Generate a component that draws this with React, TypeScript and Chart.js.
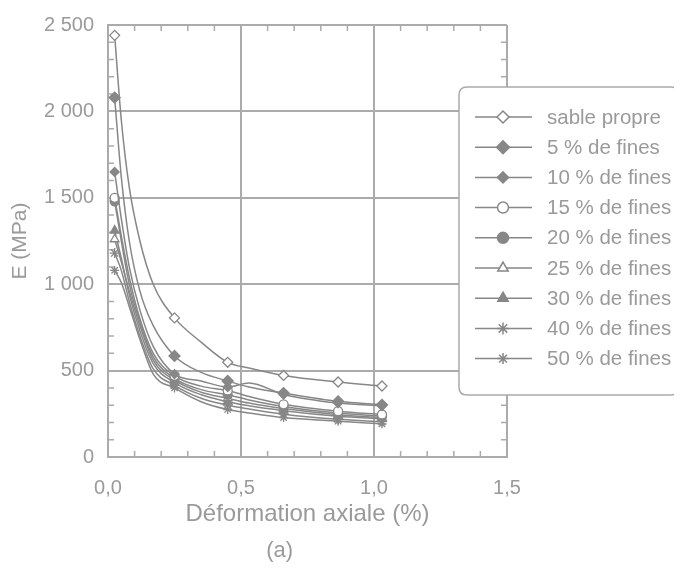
import React, { useEffect, useRef } from 'react';
import { Chart, registerables } from 'chart.js';
import { drawPoint } from 'chart.js/helpers';

Chart.register(...registerables);

// ---------- data ----------
const strain = [0.025, 0.05, 0.08, 0.12, 0.17, 0.25, 0.35, 0.45, 0.53, 0.66, 0.865, 1.03];
const markedIdx = [0, 5, 7, 9, 10, 11];

const seriesNames = [
  'sable propre',
  '5 % de fines',
  '10 % de fines',
  '15 % de fines',
  '20 % de fines',
  '25 % de fines',
  '30 % de fines',
  '40 % de fines',
  '50 % de fines',
];

const sablePropre = [2440, 1950, 1560, 1250, 1000, 805, 665, 548, 515, 472, 434, 411];
const fines5 = [2080, 1620, 1250, 960, 760, 585, 490, 440, 405, 370, 322, 302];
const fines10 = [1650, 1380, 1100, 850, 640, 480, 440, 405, 428, 362, 312, 296];
const fines15 = [1500, 1280, 1040, 800, 600, 470, 410, 385, 350, 305, 265, 246];
const fines20 = [1480, 1250, 1000, 780, 580, 455, 390, 360, 330, 292, 254, 236];
const fines25 = [1260, 1130, 960, 760, 560, 445, 375, 340, 312, 280, 245, 228];
const fines30 = [1310, 1150, 940, 730, 540, 430, 360, 320, 296, 268, 236, 221];
const fines40 = [1180, 1080, 900, 700, 510, 415, 340, 300, 278, 248, 218, 205];
const fines50 = [1080, 1010, 870, 680, 480, 400, 320, 275, 255, 228, 207, 192];

const seriesValues = [sablePropre, fines5, fines10, fines15, fines20, fines25, fines30, fines40, fines50];

const xTicks = [0, 0.5, 1, 1.5];
const xTickLabels = ['0,0', '0,5', '1,0', '1,5'];
const yTicks = [0, 500, 1000, 1500, 2000, 2500];
const yTickLabels = ['0', '500', '1 000', '1 500', '2 000', '2 500'];

// ---------- styles ----------
const FONT = "'Liberation Sans', Arial, Helvetica, sans-serif";
const TEXT = '#9a9a9a';
const GRID = '#ababab';
const LINE = '#878787';

const markerStyles = [
  { pointStyle: 'rectRot', filled: false, radius: 5 },
  { pointStyle: 'rectRot', filled: true, radius: 5.5 },
  { pointStyle: 'rectRot', filled: true, radius: 4.5 },
  { pointStyle: 'circle', filled: false, radius: 4.5 },
  { pointStyle: 'circle', filled: true, radius: 4.5 },
  { pointStyle: 'triangle', filled: false, radius: 5 },
  { pointStyle: 'triangle', filled: true, radius: 5 },
  { pointStyle: 'star', filled: false, radius: 5 },
  { pointStyle: 'star', filled: false, radius: 4.5 },
];

const minorTicksPlugin = {
  id: 'minorTicks',
  beforeDatasetsDraw(chart: any) {
    const { ctx, chartArea, scales } = chart;
    const xs = scales.x;
    const ys = scales.y;
    ctx.save();
    ctx.strokeStyle = GRID;
    ctx.lineWidth = 1.5;
    ctx.beginPath();
    for (let i = 1; i < 15; i++) {
      if (i % 5 === 0) continue;
      const px = xs.getPixelForValue(i / 10);
      ctx.moveTo(px, chartArea.bottom);
      ctx.lineTo(px, chartArea.bottom - 6);
      ctx.moveTo(px, chartArea.top);
      ctx.lineTo(px, chartArea.top + 6);
    }
    for (let v = 100; v < 2500; v += 100) {
      if (v % 500 === 0) continue;
      const py = ys.getPixelForValue(v);
      ctx.moveTo(chartArea.left, py);
      ctx.lineTo(chartArea.left + 6, py);
      ctx.moveTo(chartArea.right, py);
      ctx.lineTo(chartArea.right - 6, py);
    }
    ctx.stroke();
    ctx.restore();
  },
};

const legendPlugin = {
  id: 'boxLegend',
  afterDraw(chart: any) {
    const { ctx, chartArea } = chart;
    const left = chartArea.right - 48;
    const top = chartArea.top + 62;
    const w = chart.width - left - 1;
    const h = 308;
    ctx.save();
    const r = 8;
    ctx.beginPath();
    ctx.moveTo(left + r, top);
    ctx.lineTo(left + w - r, top);
    ctx.quadraticCurveTo(left + w, top, left + w, top + r);
    ctx.lineTo(left + w, top + h - r);
    ctx.quadraticCurveTo(left + w, top + h, left + w - r, top + h);
    ctx.lineTo(left + r, top + h);
    ctx.quadraticCurveTo(left, top + h, left, top + h - r);
    ctx.lineTo(left, top + r);
    ctx.quadraticCurveTo(left, top, left + r, top);
    ctx.closePath();
    ctx.fillStyle = '#ffffff';
    ctx.fill();
    ctx.strokeStyle = GRID;
    ctx.lineWidth = 1.5;
    ctx.stroke();

    ctx.font = `20.5px ${FONT}`;
    ctx.textBaseline = 'middle';
    ctx.textAlign = 'left';
    seriesNames.forEach((name, i) => {
      const y = top + 30 + i * 30.2;
      ctx.strokeStyle = LINE;
      ctx.lineWidth = 1.5;
      ctx.beginPath();
      ctx.moveTo(left + 16, y);
      ctx.lineTo(left + 73, y);
      ctx.stroke();
      const m = markerStyles[i];
      ctx.fillStyle = m.filled ? LINE : '#ffffff';
      ctx.strokeStyle = LINE;
      ctx.lineWidth = 1.5;
      drawPoint(ctx, { pointStyle: m.pointStyle, rotation: 0, radius: m.radius + 1, borderWidth: 1.5 }, left + 44, y);
      ctx.fillStyle = TEXT;
      ctx.fillText(name, left + 88, y + 1);
    });

    ctx.font = `22px ${FONT}`;
    ctx.textAlign = 'center';
    ctx.fillStyle = TEXT;
    ctx.fillText('(a)', chartArea.left + chartArea.width * 0.43, chart.height - 18);
    ctx.restore();
  },
};

export default function App() {
  const canvasRef = useRef<HTMLCanvasElement | null>(null);

  useEffect(() => {
    if (!canvasRef.current) return;
    const datasets = seriesNames.map((name, i) => {
      const m = markerStyles[i];
      return {
        label: name,
        data: strain.map((x, j) => ({ x, y: seriesValues[i][j] })),
        borderColor: LINE,
        borderWidth: 1.5,
        pointStyle: m.pointStyle,
        pointBackgroundColor: m.filled ? LINE : '#ffffff',
        pointBorderColor: LINE,
        pointBorderWidth: 1.3,
        pointRadius: (c: any) => (markedIdx.includes(c.dataIndex) ? m.radius : 0),
        cubicInterpolationMode: 'monotone' as const,
        fill: false,
      };
    });

    const chart = new Chart(canvasRef.current, {
      type: 'line',
      data: { datasets },
      options: {
        animation: false,
        responsive: false,
        layout: { padding: { top: 17, right: 173, left: 0, bottom: 0 } },
        plugins: {
          legend: { display: false },
          tooltip: { enabled: false },
        },
        scales: {
          x: {
            type: 'linear',
            min: 0,
            max: 1.5,
            afterBuildTicks: (s: any) => {
              s.ticks = xTicks.map((v) => ({ value: v }));
            },
            afterFit: (s: any) => {
              s.height = 112;
              s.paddingLeft = 0;
              s.paddingRight = 0;
            },
            ticks: {
              color: TEXT,
              font: { family: FONT, size: 20 },
              padding: 19,
              maxRotation: 0,
              callback: (v: any) => {
                const k = xTicks.indexOf(Number(v));
                return k >= 0 ? xTickLabels[k] : '';
              },
            },
            grid: { color: GRID, lineWidth: 2, drawTicks: false },
            border: { display: true, color: GRID, width: 2 },
            title: {
              display: true,
              text: 'Déformation axiale (%)',
              color: TEXT,
              font: { family: FONT, size: 24 },
              padding: { top: 0, bottom: 40 },
            },
          },
          y: {
            type: 'linear',
            min: 0,
            max: 2500,
            afterBuildTicks: (s: any) => {
              s.ticks = yTicks.map((v) => ({ value: v }));
            },
            afterFit: (s: any) => {
              s.width = 100;
              s.paddingTop = 0;
              s.paddingBottom = 0;
            },
            ticks: {
              color: TEXT,
              font: { family: FONT, size: 20 },
              padding: 14,
              callback: (v: any) => {
                const k = yTicks.indexOf(Number(v));
                return k >= 0 ? yTickLabels[k] : '';
              },
            },
            grid: { color: GRID, lineWidth: 2, drawTicks: false },
            border: { display: true, color: GRID, width: 2 },
            title: {
              display: true,
              text: 'E (MPa)',
              color: TEXT,
              font: { family: FONT, size: 21 },
              padding: { top: 0, bottom: 0 },
            },
          },
        },
      },
      plugins: [minorTicksPlugin, legendPlugin],
    });
    return () => chart.destroy();
  }, []);

  return (
    <div style={{ width: 672, height: 561 }}>
      <canvas ref={canvasRef} width={672} height={561} style={{ display: 'block' }} />
    </div>
  );
}
